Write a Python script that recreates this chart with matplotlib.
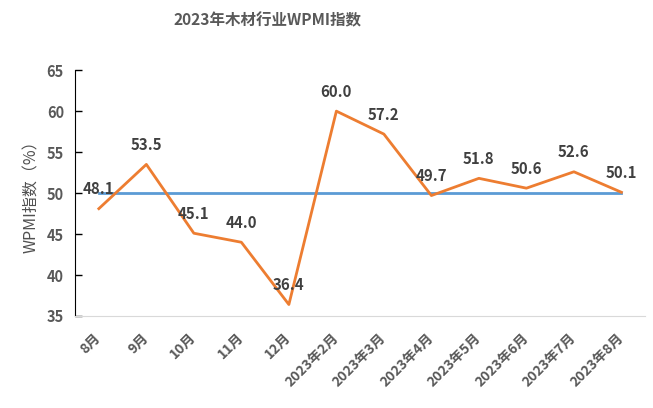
import matplotlib
matplotlib.use("Agg")
import matplotlib.pyplot as plt

plt.rcParams['font.family'] = ['Noto Sans CJK SC', 'DejaVu Sans']

months = ["8月", "9月", "10月", "11月", "12月", "2023年2月", "2023年3月",
          "2023年4月", "2023年5月", "2023年6月", "2023年7月", "2023年8月"]
wpmi = [48.1, 53.5, 45.1, 44.0, 36.4, 60.0, 57.2, 49.7, 51.8, 50.6, 52.6, 50.1]
baseline = [50] * len(months)

text_col = "#595959"

fig = plt.figure(figsize=(6.53, 4.08), dpi=100)
ax = fig.add_axes([0.115, 0.2255, 0.873, 0.6025])

x = list(range(len(months)))
ax.plot(x, baseline, color="#5B9BD5", lw=2.0, zorder=2)
ax.plot(x, wpmi, color="#ED7D31", lw=2.0, zorder=3)

for xi, v in zip(x, wpmi):
    ax.annotate(f"{v:.1f}", (xi, v), xytext=(0, 14), textcoords="offset points",
                ha="center", va="center", fontsize=10.8, fontweight="bold",
                color="#404040", zorder=4)

ax.set_xlim(-0.5, len(months) - 0.5)
ax.set_ylim(35, 65)
ax.set_yticks(range(35, 66, 5))
ax.set_xticks(x)
ax.set_xticklabels(months, rotation=45, ha="right", va="center",
                   rotation_mode="anchor")

ax.tick_params(axis="y", direction="in", length=5, width=1, colors="black",
               labelsize=10.5, pad=8)
ax.tick_params(axis="x", length=0, labelsize=10, pad=14)
for lbl in ax.get_xticklabels() + ax.get_yticklabels():
    lbl.set_color(text_col)
    lbl.set_fontweight("bold")

for s in ["top", "right"]:
    ax.spines[s].set_visible(False)
ax.spines["left"].set_color("black")
ax.spines["bottom"].set_color("#d9d9d9")

ax.set_ylabel("WPMI指数（%）", fontsize=11.5, color="#505050", labelpad=5)

fig.text(0.41, 0.949, "2023年木材行业WPMI指数", ha="center", va="center",
         fontsize=11.2, fontweight="bold", color=text_col)

fig.savefig("out.png", dpi=100)
